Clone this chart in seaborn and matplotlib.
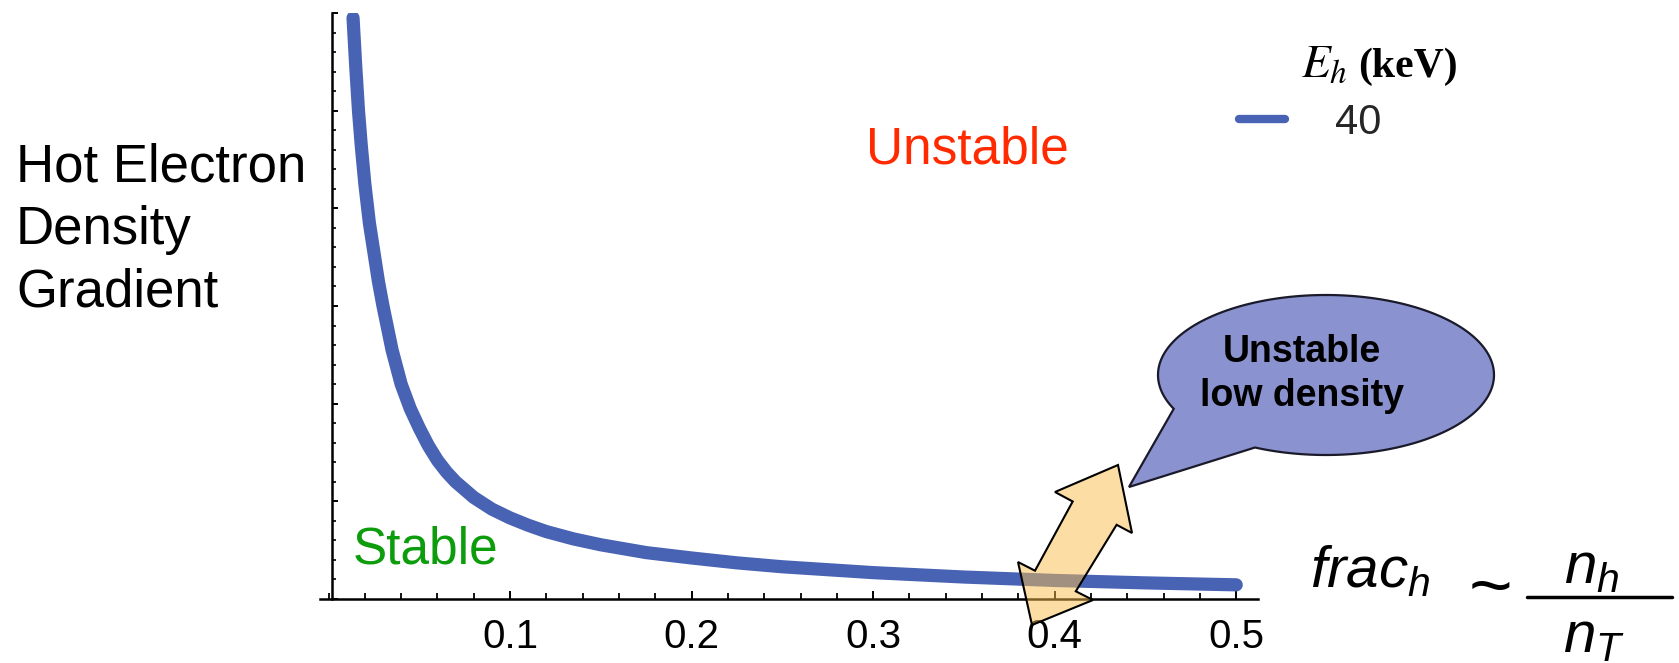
import numpy as np
import pandas as pd
import matplotlib
matplotlib.use("Agg")
import matplotlib.pyplot as plt
import seaborn as sns
from matplotlib.patches import Polygon
from matplotlib.lines import Line2D
from matplotlib.ticker import MultipleLocator, NullFormatter

# ---- data ----
frac_h = [0.0135, 0.015, 0.0165, 0.018, 0.02, 0.0225, 0.025, 0.0275, 0.03, 0.035,
          0.04, 0.045, 0.05, 0.055, 0.06, 0.065, 0.07, 0.08, 0.09, 0.10,
          0.11, 0.12, 0.135, 0.15, 0.175, 0.20, 0.225, 0.25, 0.275, 0.30,
          0.35, 0.40, 0.45, 0.50]
gradient = [5.95, 5.45, 5.00, 4.65, 4.25, 3.85, 3.55, 3.25, 3.00, 2.55,
            2.20, 1.95, 1.75, 1.57, 1.42, 1.30, 1.20, 1.04, 0.92, 0.83,
            0.755, 0.69, 0.615, 0.555, 0.475, 0.42, 0.37, 0.33, 0.30, 0.27,
            0.225, 0.19, 0.165, 0.145]
series_label = "40"
x_ticks = [0.1, 0.2, 0.3, 0.4, 0.5]
x_tick_labels = ["0.1", "0.2", "0.3", "0.4", "0.5"]

df = pd.DataFrame({"frac": frac_h, "grad": gradient, "E_h": series_label})

W, H = 1679, 663
sns.set_style("white")
plt.rcParams['font.family'] = ['Liberation Sans', 'DejaVu Sans']
plt.rcParams['mathtext.fontset'] = 'custom'
plt.rcParams['mathtext.it'] = 'Liberation Sans:italic'
plt.rcParams['mathtext.rm'] = 'Liberation Sans'

fig = plt.figure(figsize=(W / 100, H / 100), dpi=100)
fig.patch.set_facecolor("white")

def fx(x):
    return x / W

def fy(y):
    return 1 - y / H

def inch(x, y):
    return (x / 100.0, (H - y) / 100.0)

ax = fig.add_axes([fx(320), fy(599), (1258 - 320) / W, (599 - 13) / H])
ax.set_facecolor("white")

blue = "#4862b4"
sns.lineplot(data=df, x="frac", y="grad", hue="E_h", palette=[blue],
             estimator=None, sort=True, linewidth=9.5, ax=ax)
for ln in ax.get_lines():
    ln.set_solid_capstyle("round")
    ln.set_solid_joinstyle("round")

ax.set_xlim(-0.0047, 0.512)
ax.set_ylim(0, 6)
ax.spines["top"].set_visible(False)
ax.spines["right"].set_visible(False)
ax.spines["left"].set_position(("data", 0.0019))
for s in ("left", "bottom"):
    ax.spines[s].set_linewidth(1.8)
    ax.spines[s].set_color("black")

ax.set_xticks(x_ticks)
ax.set_xticklabels(x_tick_labels)
ax.xaxis.set_minor_locator(MultipleLocator(0.02))
ax.yaxis.set_major_locator(MultipleLocator(1))
ax.yaxis.set_minor_locator(MultipleLocator(0.2))
ax.yaxis.set_major_formatter(NullFormatter())
ax.tick_params(axis="x", which="both", bottom=True, top=False)
ax.tick_params(axis="y", which="both", left=True, right=False)
ax.tick_params(axis="x", which="major", direction="in", length=6, width=1.4,
               labelsize=29, pad=14, colors="black")
ax.tick_params(axis="x", which="minor", direction="in", length=4, width=1.3, colors="black")
ax.tick_params(axis="y", which="major", direction="in", length=4.5, width=1.4,
               labelleft=False, colors="black")
ax.tick_params(axis="y", which="minor", direction="in", length=3, width=1.2, colors="black")
ax.set_xlabel("")
ax.set_ylabel("")

# legend
leg = ax.legend(loc="center left", bbox_to_anchor=(fx(1239), fy(123)),
                bbox_transform=fig.transFigure, frameon=False, fontsize=30,
                handlelength=1.1, handletextpad=1.2, borderpad=0, borderaxespad=0)
for h in leg.get_lines():
    h.set_linewidth(6)
fig.text(fx(1301), fy(77), r"$E_h$", fontsize=34, math_fontfamily="stix",
         ha="left", va="baseline", color="black")
fig.text(fx(1358), fy(77), "(keV)", fontsize=30, family="Liberation Serif",
         fontweight="bold", ha="left", va="baseline", color="black")

# region labels
fig.text(fx(16), fy(230), "Hot Electron\nDensity\nGradient", fontsize=38,
         ha="left", va="center", linespacing=1.33, color="black")
fig.text(fx(967), fy(150), "Unstable", fontsize=37, color="#ff2a00",
         ha="center", va="center")
fig.text(fx(353), fy(550), "Stable", fontsize=37, color="#0c9c0c",
         ha="left", va="center")

# speech bubble
cx, cy, a, b = 1326, 375, 168, 80
th = np.deg2rad(np.linspace(155, 115 + 360, 200))
bub = [inch(cx + a * np.cos(t), cy + b * np.sin(t)) for t in th]
bub.append(inch(1129, 487))
fig.add_artist(Polygon(bub, closed=True, transform=fig.dpi_scale_trans,
                       facecolor="#8a93cf", edgecolor="#1a1a2a", linewidth=1.6,
                       zorder=5))
fig.text(fx(1302), fy(374), "Unstable\nlow density", fontsize=27, fontweight="bold",
         family=["Liberation Sans Narrow", "Liberation Sans"],
         ha="center", va="center", linespacing=1.25, color="black", zorder=6)

# double arrow
arr_px = [(1118, 465), (1132, 533), (1116.6, 524.8), (1075.8, 591.3), (1093, 600),
          (1032, 625), (1018, 562), (1035, 570.7), (1072.7, 501.5), (1055, 492)]
fig.add_artist(Polygon([inch(x, y) for x, y in arr_px], closed=True,
                       transform=fig.dpi_scale_trans,
                       facecolor=(251 / 255, 189 / 255, 75 / 255, 0.5),
                       edgecolor="black", linewidth=1.5, zorder=5))

# fraction label
fig.text(fx(1310), fy(587), r"$frac_h$", fontsize=42, math_fontfamily="custom",
         ha="left", va="baseline", color="black")
fig.text(fx(1490), fy(610), "~", fontsize=54, ha="center", va="baseline", color="black")
fig.add_artist(Line2D([fx(1527), fx(1672)], [fy(597), fy(597)],
                      transform=fig.transFigure, color="black", linewidth=2.5))
fig.text(fx(1592), fy(583), r"$n_h$", fontsize=42, math_fontfamily="custom",
         ha="center", va="baseline", color="black")
fig.text(fx(1594), fy(652), r"$n_T$", fontsize=42, math_fontfamily="custom",
         ha="center", va="baseline", color="black")

fig.savefig("out.png", dpi=100, facecolor="white")
